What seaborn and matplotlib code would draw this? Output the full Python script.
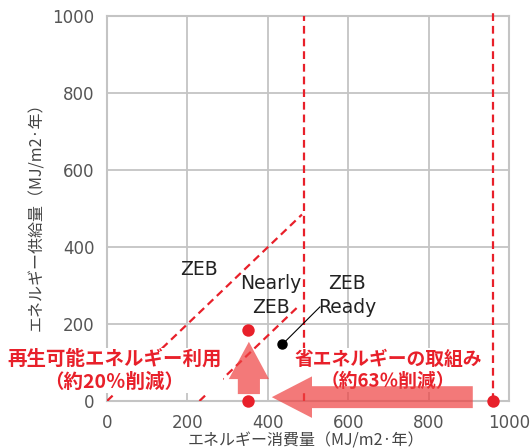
import numpy as np
import pandas as pd
import matplotlib.pyplot as plt
import seaborn as sns
from matplotlib.patches import FancyArrow

# values (MJ/m2·year)
axis_ticks = [0, 200, 400, 600, 800, 1000]
zeb_x = [0, 485]            # ZEB border: supply = consumption
zeb_y = [0, 485]
nearly_x = [230, 475]       # Nearly ZEB border
nearly_y = [0, 245]
ready_x = 490               # ZEB Ready border (about 50% of reference)
ref_x = 960                 # reference building consumption
points = pd.DataFrame({"consumption": [350, 350, 960], "supply": [185, 0, 0]})
building_x = [436]
building_y = [147]

red = "#E8202A"
grey = "#c4c4c4"

sns.set_style("whitegrid")
plt.rcParams["font.family"] = ["DejaVu Sans", "Noto Sans CJK JP"]
jp = ["Noto Sans CJK JP", "DejaVu Sans"]

fig = plt.figure(figsize=(5.32, 4.48), dpi=100)
ax = fig.add_axes([0.2011, 0.1049, 0.7556, 0.8583])
ax.set_xlim(0, 1000)
ax.set_ylim(0, 1000)
ax.set_xticks(axis_ticks)
ax.set_yticks(axis_ticks)
ax.tick_params(length=0, pad=9, labelsize=12, labelcolor="#555555")
ax.grid(True, color=grey, linewidth=1.3)
for s in ax.spines.values():
    s.set_color(grey)
    s.set_linewidth(1.5)

# dashed borders
dash = dict(color=red, linewidth=1.6, dashes=(3.5, 2.2))
ax.plot(zeb_x, zeb_y, **dash, zorder=3)
ax.plot(nearly_x, nearly_y, **dash, zorder=3)
ax.plot([ready_x, ready_x], [0, 1000], **dash, zorder=3)
ax.plot([ref_x, ref_x], [0, 1010], **dash, zorder=3, clip_on=False)

# arrows
arrow_c = "#EE4040"
ax.add_patch(FancyArrow(353, 18, 0, 136, width=55, head_width=100, head_length=97,
                        length_includes_head=True, color=arrow_c, alpha=0.7,
                        linewidth=0, zorder=7))
ax.add_patch(FancyArrow(910, 10, -500, 0, width=57, head_width=108, head_length=100,
                        length_includes_head=True, color=arrow_c, alpha=0.7,
                        linewidth=0, zorder=7, clip_on=False))

# points
sns.scatterplot(data=points, x="consumption", y="supply", color=red, s=80,
                linewidth=0, zorder=8, clip_on=False, ax=ax)
ax.plot(building_x, building_y, "o", color="black", markersize=6.5, zorder=5)
ax.plot([building_x[0], 530], [building_y[0], 245], color="black", linewidth=0.8, zorder=5)
ax.set_xlabel("")
ax.set_ylabel("")

# labels
ax.text(229, 343, "ZEB", ha="center", va="center", fontsize=13.5, color="#222222")
ax.text(408, 275, "Nearly\nZEB", ha="center", va="center", fontsize=13.5,
        color="#222222", linespacing=1.3)
ax.text(597, 275, "ZEB\nReady", ha="center", va="center", fontsize=13.5,
        color="#222222", linespacing=1.3)

box = dict(facecolor="white", edgecolor="none", pad=1)
ax.text(18, 80, "再生可能エネルギー利用\n（約20％削減）", ha="center", va="center",
        fontsize=14, fontweight="bold", color=red, family=jp, linespacing=1.25,
        bbox=box, zorder=6, clip_on=False)
ax.text(699, 80, "省エネルギーの取組み\n（約63％削減）", ha="center", va="center",
        fontsize=13.5, fontweight="bold", color=red, family=jp, linespacing=1.2,
        bbox=box, zorder=6)

fig.text(306 / 532, 1 - 441 / 448, "エネルギー消費量（MJ/m2·年）", ha="center", va="center",
         fontsize=11.5, color="#444444", family=jp)
fig.text(37 / 532, 1 - 213 / 448, "エネルギー供給量（MJ/m2·年）", ha="center", va="center",
         rotation=90, fontsize=11.5, color="#444444", family=jp)

fig.savefig("out.png", dpi=100)
